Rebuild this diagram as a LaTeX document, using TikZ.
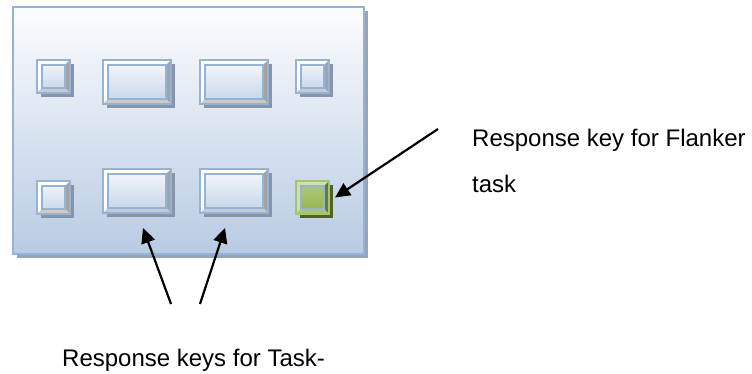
\documentclass[tikz,border=0pt]{standalone}
\usepackage{fontspec}
\setmainfont{Liberation Sans}
\usetikzlibrary{arrows.meta, shadows}

\definecolor{paneltop}{HTML}{FCFDFE}
\definecolor{panelbot}{HTML}{B8CBE3}
\definecolor{keyedge}{HTML}{95B3D7}
\definecolor{keytop}{HTML}{F7F9FD}
\definecolor{keybot}{HTML}{C3D3E9}
\definecolor{keyshade}{HTML}{8794AA}
\definecolor{bevelgray}{HTML}{A3A3A3}
\definecolor{bevellight}{HTML}{CACACA}
\definecolor{greenedge}{HTML}{A5C46B}
\definecolor{greentop}{HTML}{AFCB78}
\definecolor{greenbot}{HTML}{93B451}
\definecolor{greenshade}{HTML}{4F6228}

\tikzset{
 bevel/.style n args={3}{path picture={
   \path (path picture bounding box.south west) coordinate (bsw)
         (path picture bounding box.north west) coordinate (bnw)
         (path picture bounding box.north east) coordinate (bne)
         (path picture bounding box.south east) coordinate (bse);
   \fill[#1] (bsw) -- (bnw) -- (bne) -- ([shift={(-5pt,-5pt)}]bne)
     -- ([shift={(5pt,-5pt)}]bnw) -- ([shift={(5pt,5pt)}]bsw) -- cycle;
   \fill[#2] (bse) -- (bne) -- ([shift={(-5pt,-5pt)}]bne) -- ([shift={(-5pt,5pt)}]bse) -- cycle;
   \fill[#3] (bsw) -- (bse) -- ([shift={(-5pt,5pt)}]bse) -- ([shift={(5pt,5pt)}]bsw) -- cycle;
   \draw[draw=keyedge, line width=1.2pt] ([shift={(5pt,5pt)}]bsw) rectangle ([shift={(-5pt,-5pt)}]bne);
 }}
}

\begin{document}
\begin{tikzpicture}[x=1pt,y=-1pt,
 key node/.style={draw=keyedge, line width=2pt, inner sep=0pt, anchor=north west,
   top color=keytop, bottom color=keybot, bevel={white}{bevelgray}{bevellight},
   drop shadow={shadow xshift=4pt, shadow yshift=-4pt, fill=keyshade, opacity=1}},
 small key/.style={key node, minimum width=33pt, minimum height=33pt},
 wide key/.style={key node, minimum width=68pt, minimum height=44pt},
 green key/.style={small key, draw=greenedge, top color=greentop, bottom color=greenbot,
   bevel={greentop!60!white}{greenshade!70!greenbot}{greenbot!80!white},
   drop shadow={shadow xshift=4pt, shadow yshift=-4pt, fill=greenshade, opacity=1}},
 label node/.style={inner sep=0pt, anchor=base west, font=\fontsize{24}{28}\selectfont},
 arr/.style={line width=2.2pt, -{Triangle[length=15pt,width=14pt]}}]

  \useasboundingbox (0,0) rectangle (752,374);

  \node[draw=keyedge, line width=2pt, anchor=north west, inner sep=0pt,
    minimum width=351pt, minimum height=247pt, top color=paneltop, bottom color=panelbot,
    drop shadow={shadow xshift=4pt, shadow yshift=-4pt, fill=keyshade!85!white, opacity=1}]
    (panel) at (12,6) {};

  \node[small key] (1) at (36,59) {};
  \node[wide key]  (2) at (102,59) {};
  \node[wide key]  (3) at (199,59) {};
  \node[small key] (4) at (295,59) {};
  \node[small key] (5) at (36,180) {};
  \node[wide key]  (6) at (102,168) {};
  \node[wide key]  (7) at (199,168) {};
  \node[green key] (8) at (295,180) {};

  \node[label node] (flanker) at (472,147) {Response key for Flanker};
  \node[label node] (flanker2) at (472,193) {task};
  \node[label node] (switch) at (62,366) {Response keys for Task-};

  \coordinate (f) at (438,129);
  \coordinate (t1) at (171,304);
  \coordinate (t2) at (200,304);

  \draw[arr] (f) -- ([xshift=5pt]8.east);
  \draw[arr] (t1) -- ([xshift=6pt,yshift=-14pt]6.south);
  \draw[arr] (t2) -- ([xshift=-9pt,yshift=-14pt]7.south);
\end{tikzpicture}
\end{document}
